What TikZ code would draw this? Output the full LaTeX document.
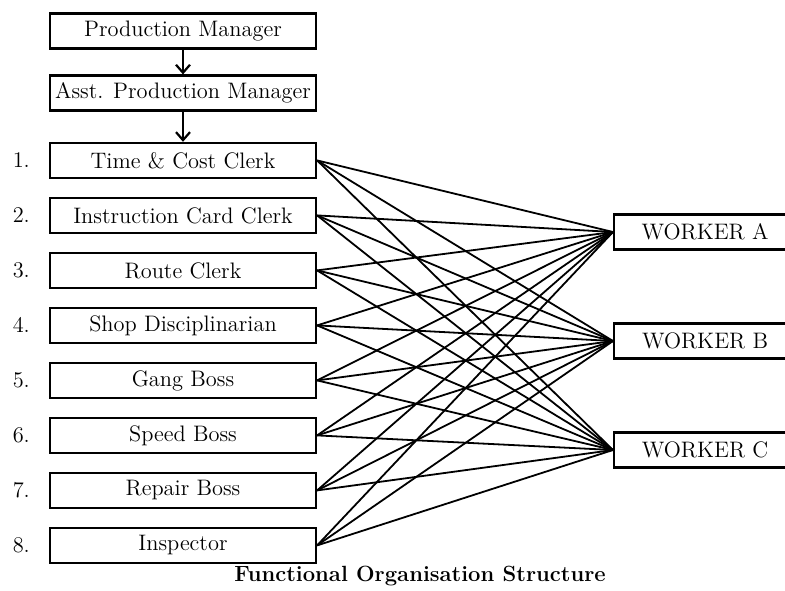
\documentclass[tikz,border=0pt]{standalone}
\usetikzlibrary{positioning,
                arrows.meta}
\tikzset{post/.style =
   {rectangle,
    draw,
    line width=1.1pt,
    text centered,
    minimum width=133pt,
    minimum height=17.5pt,
    inner sep=1pt}}
\tikzset{worker/.style =
   {post,
    minimum width=91pt}}
\tikzset{link/.style = {draw, line width=0.9pt}}
\tikzset{arrow/.style = {draw, line width=1.1pt, -{Straight Barb[length=4pt,width=7pt]}}}
\tikzset{num/.style = {label distance=6pt}}

\begin{document}
\begin{tikzpicture}[font=\fontsize{11.2}{13}\selectfont]
    \useasboundingbox (0,0) rectangle (392.5pt,-295pt);

    \node [post] (pm) at (91.5pt,-15.5pt) {Production Manager};

    \node [post,
           node distance = 12.4pt,
           below = of pm] (apm) {Asst. Production Manager};

    \node [post,
           label={[num]west:1.},
           node distance = 15.1pt,
           below = of apm] (f1) {Time \& Cost Clerk};

    \node [post,
           label={[num]west:2.},
           node distance = 8.9pt,
           below = of f1] (f2) {Instruction Card Clerk};

    \node [post,
           label={[num]west:3.},
           node distance = 8.9pt,
           below = of f2] (f3) {Route Clerk};

    \node [post,
           label={[num]west:4.},
           node distance = 8.9pt,
           below = of f3] (f4) {Shop Disciplinarian};

    \node [post,
           label={[num]west:5.},
           node distance = 8.9pt,
           below = of f4] (f5) {Gang Boss};

    \node [post,
           label={[num]west:6.},
           node distance = 8.9pt,
           below = of f5] (f6) {Speed Boss};

    \node [post,
           label={[num]west:7.},
           node distance = 8.9pt,
           below = of f6] (f7) {Repair Boss};

    \node [post,
           label={[num]west:8.},
           node distance = 8.9pt,
           below = of f7] (f8) {Inspector};

    \node [worker, anchor=west] (wa) at (306.5pt,-116pt) {WORKER A};
    \node [worker, anchor=west] (wb) at (306.5pt,-170.5pt) {WORKER B};
    \node [worker, anchor=west] (wc) at (306.5pt,-225pt) {WORKER C};

    \node [font=\fontsize{11}{13}\selectfont\bfseries] (title) at (210pt,-288pt)
    {Functional Organisation Structure};

    \draw [arrow] (pm.south) -- (apm.north);
    \draw [arrow] (apm.south) -- (f1.north);

    \foreach \f in {1,...,8}
      \foreach \w in {a,b,c}
        \draw [link] (f\f.east) -- (w\w.west);

\end{tikzpicture}
\end{document}
